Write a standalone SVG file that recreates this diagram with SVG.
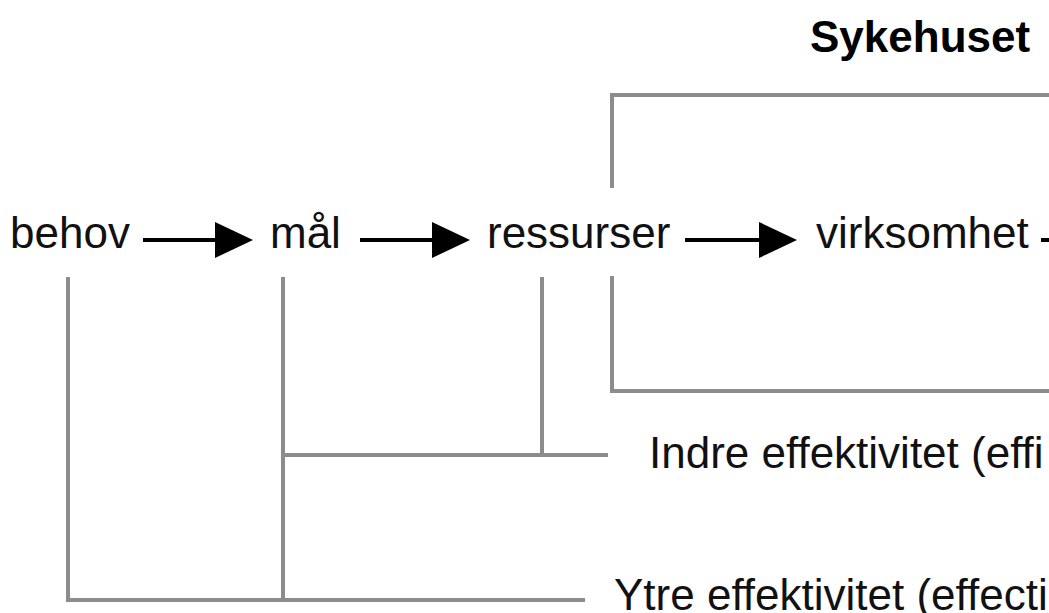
<svg xmlns="http://www.w3.org/2000/svg" width="1049" height="613" viewBox="0 0 1049 613">
  <style>
    .t { font-family: "Liberation Sans", Arial, sans-serif; font-size: 44px; fill: #111; }
    .title { font-family: "Liberation Sans", Arial, sans-serif; font-size: 44px; font-weight: bold; fill: #000; }
    .g { fill: none; stroke: #8c8c8c; stroke-width: 4; }
    .a { fill: none; stroke: #000; stroke-width: 4; }
    .bg { fill: #fff; }
  </style>
  <defs>
    <marker id="ah" markerUnits="userSpaceOnUse" markerWidth="40" markerHeight="40" viewBox="0 -20 40 40" refX="0" refY="0" orient="auto">
      <path d="M0,-18 L38,0 L0,18 z" fill="#000"/>
    </marker>
  </defs>
  <rect width="1049" height="613" fill="#fff"/>
  <g id="sykehuset">
    <path class="g" d="M1049,95 H612 V391 H1049"/>
    <text class="title" x="810" y="52">Sykehuset</text>
  </g>
  <g id="connectors">
    <line class="a" x1="143" y1="240" x2="215" y2="240" marker-end="url(#ah)"/>
    <line class="a" x1="360" y1="240" x2="432" y2="240" marker-end="url(#ah)"/>
    <line class="a" x1="685" y1="240" x2="759" y2="240" marker-end="url(#ah)"/>
    <line class="a" x1="1041" y1="240" x2="1049" y2="240"/>
    <path class="g" d="M68,277 V600 H585"/>
    <path class="g" d="M283,277 V600"/>
    <path class="g" d="M542,277 V455"/>
    <path class="g" d="M283,455 H608"/>
  </g>
  <g id="behov"><text class="t" x="10" y="248">behov</text></g>
  <g id="maal"><text class="t" x="270" y="248">mål</text></g>
  <g id="ressurser">
    <rect class="bg" x="478" y="188" width="202" height="88"/>
    <text class="t" x="487" y="248">ressurser</text>
  </g>
  <g id="virksomhet"><text class="t" x="816" y="248">virksomhet</text></g>
  <g id="indre"><text class="t" x="649" y="468">Indre effektivitet (effi</text></g>
  <g id="ytre"><text class="t" x="614" y="610">Ytre effektivitet (effecti</text></g>
</svg>
